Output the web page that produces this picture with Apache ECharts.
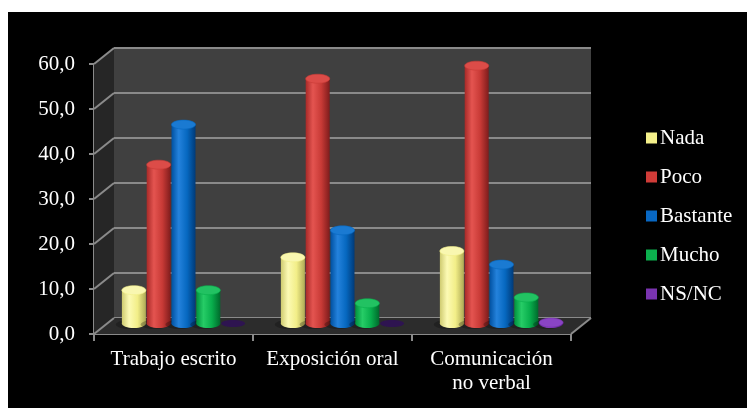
<!DOCTYPE html>
<html>
<head>
<meta charset="utf-8">
<script src="https://cdn.jsdelivr.net/npm/echarts@6/dist/echarts.min.js"></script>
<style>
  html, body { margin: 0; padding: 0; background: #fff; }
  #frame { position: absolute; left: 8px; top: 12px; right: 0; bottom: 0; background: #000; }
  #chart { position: absolute; left: 0; top: 0; width: 747px; height: 408px; }
</style>
</head>
<body>
<div id="frame"></div>
<div id="chart"></div>
<script>
const categories = ["Trabajo escrito", "Exposición oral", "Comunicación\nno verbal"];
const seriesNames = ["Nada", "Poco", "Bastante", "Mucho", "NS/NC"];
const nadaValues = [9.4, 16.7, 18.1];
const pocoValues = [37.3, 56.4, 59.3];
const bastanteValues = [46.2, 22.7, 15.1];
const muchoValues = [9.4, 6.5, 7.8];
const nsncValues = [0, 0, 2.2];
const yTicks = [0, 10, 20, 30, 40, 50, 60];

const allValues = [nadaValues, pocoValues, bastanteValues, muchoValues, nsncValues];

// shading per series: edge dark, highlight, body, right dark, top cap, flat (zero) cap
const SHADES = [
  { base: "#f4f08a", stops: ["#cfcb70", "#fcfab4", "#f2ee88", "#aeaa55"], cap: "#f9f7b0", flat: "#8a8850" },
  { base: "#d03c38", stops: ["#a82a28", "#e45450", "#c83a36", "#7e1c1c"], cap: "#dc4c48", flat: "#5a1a1a" },
  { base: "#0868c4", stops: ["#0050a0", "#2482dc", "#0668c0", "#003a78"], cap: "#1a7ad2", flat: "#0a2a50" },
  { base: "#0cb04e", stops: ["#00923e", "#26cc66", "#08ae4c", "#006a2c"], cap: "#22c262", flat: "#0a4020" },
  { base: "#7a34b0", stops: ["#5a2288", "#9248cc", "#7432aa", "#441468"], cap: "#8a44c4", flat: "#2e1450" },
];

const DX = -20, DY = 16;
const chart = echarts.init(document.getElementById("chart"));

function renderWalls(params, api) {
  const cs = params.coordSys;
  const x = cs.x, y = cs.y, w = cs.width, h = cs.height;
  const children = [
    {
      type: "polygon",
      shape: { points: [[x, y], [x, y + h], [x + DX, y + h + DY], [x + DX, y + DY]] },
      style: { fill: "#262626" },
    },
    {
      type: "polygon",
      shape: { points: [[x, y + h], [x + w, y + h], [x + w + DX, y + h + DY], [x + DX, y + h + DY]] },
      style: { fill: "#2c2c2c" },
    },
    {
      type: "line",
      shape: { x1: x + w, y1: y + h, x2: x + w + DX, y2: y + h + DY },
      style: { stroke: "#8a8a8a", lineWidth: 2 },
    },
  ];
  yTicks.forEach((t) => {
    const yk = api.coord([0, t])[1];
    children.push({
      type: "line",
      shape: { x1: x, y1: yk, x2: x + DX, y2: yk + DY },
      style: { stroke: "#8a8a8a", lineWidth: 2 },
    });
  });
  return { type: "group", children };
}

function cylinder(s) {
  const sh = SHADES[s];
  return function (params, api) {
    const ci = api.value(0);
    const v = api.value(1);
    const base = api.coord([ci, 0]);
    const top = api.coord([ci, v]);
    const bw = api.size([1, 0])[0] * 0.78 / 5;
    const cx = base[0] + (s - 2) * bw;
    const rx = bw / 2 - 0.4;
    const ry = 4.5;
    const shadow = {
      type: "ellipse",
      shape: { cx: cx - 4, cy: base[1] - ry + 1, rx: rx + 2, ry: ry },
      style: { fill: "rgba(0,0,0,0.25)" },
    };
    if (v <= 0) {
      return {
        type: "group",
        children: [
          { type: "ellipse", shape: { cx: cx, cy: base[1] - ry, rx: rx, ry: ry - 1 }, style: { fill: sh.flat } },
        ],
      };
    }
    const grad = new echarts.graphic.LinearGradient(0, 0, 1, 0, [
      { offset: 0, color: sh.stops[0] },
      { offset: 0.3, color: sh.stops[1] },
      { offset: 0.65, color: sh.stops[2] },
      { offset: 1, color: sh.stops[3] },
    ]);
    const yTop = top[1] + ry;
    const yBot = base[1] - ry;
    return {
      type: "group",
      children: [
        shadow,
        { type: "ellipse", shape: { cx: cx, cy: yBot, rx: rx, ry: ry }, style: { fill: grad } },
        { type: "rect", shape: { x: cx - rx, y: yTop, width: rx * 2, height: Math.max(0, yBot - yTop) }, style: { fill: grad } },
        { type: "ellipse", shape: { cx: cx, cy: yTop, rx: rx, ry: ry }, style: { fill: sh.cap, stroke: sh.stops[2], lineWidth: 0.6 } },
      ],
    };
  };
}

const serif = "'Liberation Serif', 'Times New Roman', serif";

const barSeries = seriesNames.map((name, s) => ({
  name: name,
  type: "custom",
  xAxisIndex: 2,
  yAxisIndex: 2,
  z: 5,
  itemStyle: { color: SHADES[s].base },
  renderItem: cylinder(s),
  data: categories.map((c, i) => [i, allValues[s][i]]),
}));

chart.setOption({
  animation: false,
  backgroundColor: "transparent",
  grid: [
    { left: 114, right: 156, top: 48, bottom: 90, show: true, backgroundColor: "#404040", borderWidth: 0 },
    { left: 94, right: 176, top: 64, bottom: 74 },
    { left: 104, right: 166, top: 58, bottom: 80 },
  ],
  legend: {
    orient: "vertical",
    left: 641,
    top: 121,
    itemWidth: 11,
    itemHeight: 11,
    itemGap: 15,
    icon: "rect",
    data: seriesNames,
    textStyle: { color: "#fff", fontFamily: serif, fontSize: 21, lineHeight: 24, padding: [0, 0, 0, -2] },
  },
  xAxis: [
    { type: "category", gridIndex: 0, data: categories, show: false },
    {
      type: "category",
      gridIndex: 1,
      data: categories,
      axisLine: { lineStyle: { color: "#8a8a8a", width: 2 } },
      axisTick: { show: true, length: 7, lineStyle: { color: "#8a8a8a", width: 2 } },
      axisLabel: { interval: 0, color: "#fff", fontFamily: serif, fontSize: 21, lineHeight: 24, margin: 13 },
    },
    { type: "category", gridIndex: 2, data: categories, show: false },
  ],
  yAxis: [
    {
      type: "value",
      gridIndex: 0,
      min: 0,
      max: 60,
      interval: 10,
      axisLine: { show: false },
      axisTick: { show: false },
      axisLabel: { show: false },
      splitLine: { lineStyle: { color: "#8a8a8a", width: 2 } },
    },
    {
      type: "value",
      gridIndex: 1,
      min: 0,
      max: 60,
      interval: 10,
      axisLine: { show: true, lineStyle: { color: "#8a8a8a", width: 2 } },
      axisTick: { show: true, length: 5, lineStyle: { color: "#8a8a8a", width: 2 } },
      axisLabel: {
        color: "#fff",
        fontFamily: serif,
        fontSize: 21,
        margin: 19,
        formatter: (v) => v.toFixed(1).replace(".", ","),
      },
      splitLine: { show: false },
    },
    { type: "value", gridIndex: 2, min: 0, max: 60, interval: 10, show: false, splitLine: { show: false } },
  ],
  series: [
    {
      type: "custom",
      xAxisIndex: 0,
      yAxisIndex: 0,
      z: 1,
      silent: true,
      renderItem: renderWalls,
      data: [[0, 0]],
    },
    ...barSeries,
  ],
});
</script>
</body>
</html>
